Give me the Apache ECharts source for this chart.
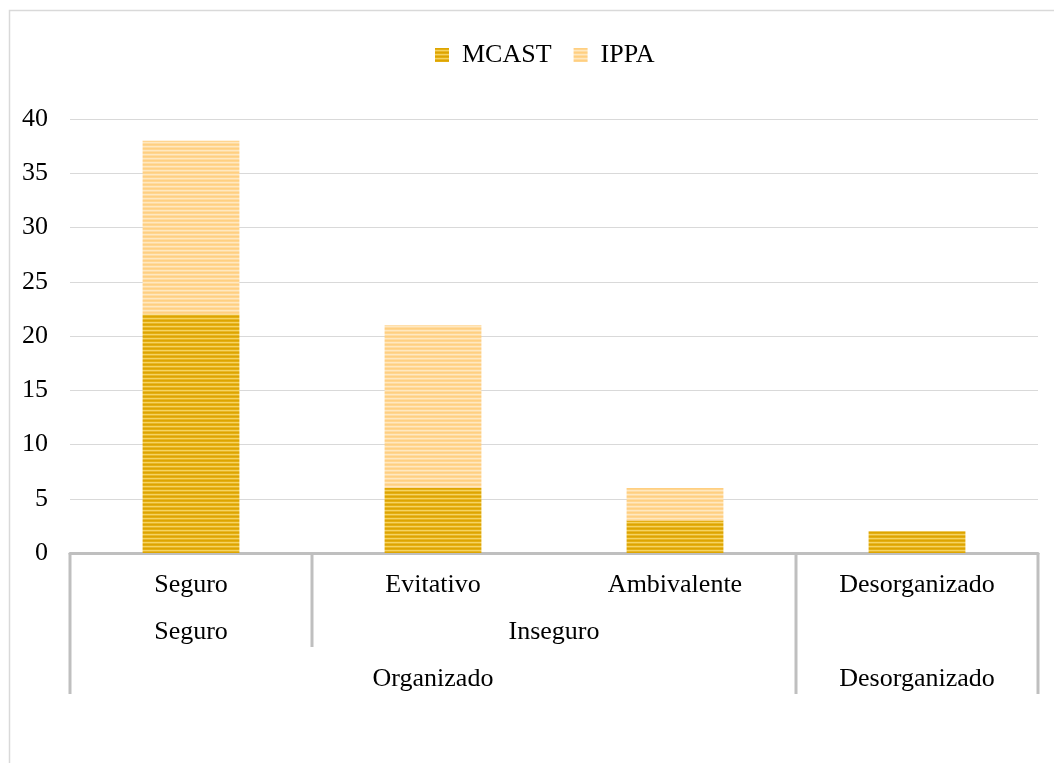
<!DOCTYPE html>
<html>
<head>
<meta charset="utf-8">
<script src="https://cdn.jsdelivr.net/npm/echarts@6/dist/echarts.min.js"></script>
<style>
html,body{margin:0;padding:0;background:#fff;}
#chart{width:1054px;height:763px;}
</style>
</head>
<body>
<div id="chart"></div>
<script>
// ---- data ----
const categories = ['Seguro', 'Evitativo', 'Ambivalente', 'Desorganizado'];
const seriesNames = ['MCAST', 'IPPA'];
const mcast = [22, 6, 3, 2];
const ippa = [16, 15, 3, 0];
// higher category levels: [label, firstIndex, lastIndex]
const level2 = [['Seguro', 0, 0], ['Inseguro', 1, 2], ['', 3, 3]];
const level3 = [['Organizado', 0, 2], ['Desorganizado', 3, 3]];
const yMin = 0, yMax = 40, yStep = 5;

// ---- styles ----
const FONT = '"Liberation Serif", "Times New Roman", serif';
function stripes(colors) {
  const c = document.createElement('canvas');
  c.width = 8; c.height = colors.length;
  const ctx = c.getContext('2d');
  colors.forEach((col, i) => { ctx.fillStyle = col; ctx.fillRect(0, i, 8, 1); });
  return { image: c, repeat: 'repeat' };
}
const mcastFill = stripes(['#dda500', '#e4ae14', '#f5d462', '#e8b628']);
const ippaFill = stripes(['#ffcf80', '#ffd590', '#ffe8c0', '#ffdba0']);

const chart = echarts.init(document.getElementById('chart'), null, { renderer: 'canvas' });

const option = {
  animation: false,
  backgroundColor: '#fff',
  legend: {
    top: 37,
    left: 430,
    icon: 'rect',
    itemWidth: 14,
    itemHeight: 14,
    itemGap: 22,
    textStyle: { fontFamily: FONT, fontSize: 26, color: '#000', padding: [0, 0, 0, 8] },
    data: seriesNames
  },
  grid: { left: 70, right: 16, top: 119, bottom: 210, containLabel: false },
  xAxis: {
    type: 'category',
    data: categories,
    axisLine: { show: true, lineStyle: { color: '#bfbfbf', width: 3 } },
    axisTick: { show: false },
    axisLabel: { margin: 19, fontFamily: FONT, fontSize: 26, color: '#000', interval: 0 }
  },
  yAxis: {
    type: 'value',
    min: yMin, max: yMax, interval: yStep,
    axisLine: { show: false },
    axisTick: { show: false },
    axisLabel: { margin: 22, fontFamily: FONT, fontSize: 26, color: '#000' },
    splitLine: { lineStyle: { color: '#d9d9d9', width: 1 } }
  },
  series: [
    { name: seriesNames[0], type: 'bar', stack: 'a', data: mcast, barWidth: '40%',
      itemStyle: { color: mcastFill } },
    { name: seriesNames[1], type: 'bar', stack: 'a', data: ippa, barWidth: '40%',
      itemStyle: { color: ippaFill } }
  ]
};
chart.setOption(option);

// ---- multi-level category axis decorations, positioned from the axis scale ----
const c0 = chart.convertToPixel({ xAxisIndex: 0 }, categories[0]);
const c1 = chart.convertToPixel({ xAxisIndex: 0 }, categories[1]);
const band = c1 - c0;
const edge = i => c0 + band * (i - 0.5);
const yBase = chart.convertToPixel({ yAxisIndex: 0 }, 0);
const rowH = 47, textOff = 32;

const graphics = [];
// outer frame
graphics.push({ type: 'rect', shape: { x: 9.5, y: 10.5, width: 1060, height: 770 },
  style: { fill: 'none', stroke: '#d9d9d9', lineWidth: 1.5 }, silent: true });

// boundary depth
const depth = new Array(categories.length + 1).fill(0);
level2.forEach(g => { depth[g[1]] = Math.max(depth[g[1]], 2); depth[g[2] + 1] = Math.max(depth[g[2] + 1], 2); });
level3.forEach(g => { depth[g[1]] = Math.max(depth[g[1]], 3); depth[g[2] + 1] = Math.max(depth[g[2] + 1], 3); });
depth.forEach((d, i) => {
  if (d > 0) {
    const x = edge(i);
    graphics.push({ type: 'line', shape: { x1: x, y1: yBase, x2: x, y2: yBase + rowH * d },
      style: { stroke: '#bfbfbf', lineWidth: 3 }, silent: true });
  }
});
[level2, level3].forEach((lvl, li) => {
  lvl.forEach(g => {
    if (!g[0]) return;
    const cx = (edge(g[1]) + edge(g[2] + 1)) / 2;
    graphics.push({ type: 'text', x: cx, y: yBase + rowH * (li + 1) + textOff,
      style: { text: g[0], font: '26px ' + FONT, fill: '#000', textAlign: 'center', textVerticalAlign: 'middle' },
      silent: true });
  });
});
chart.setOption({ graphic: graphics });
</script>
</body>
</html>
